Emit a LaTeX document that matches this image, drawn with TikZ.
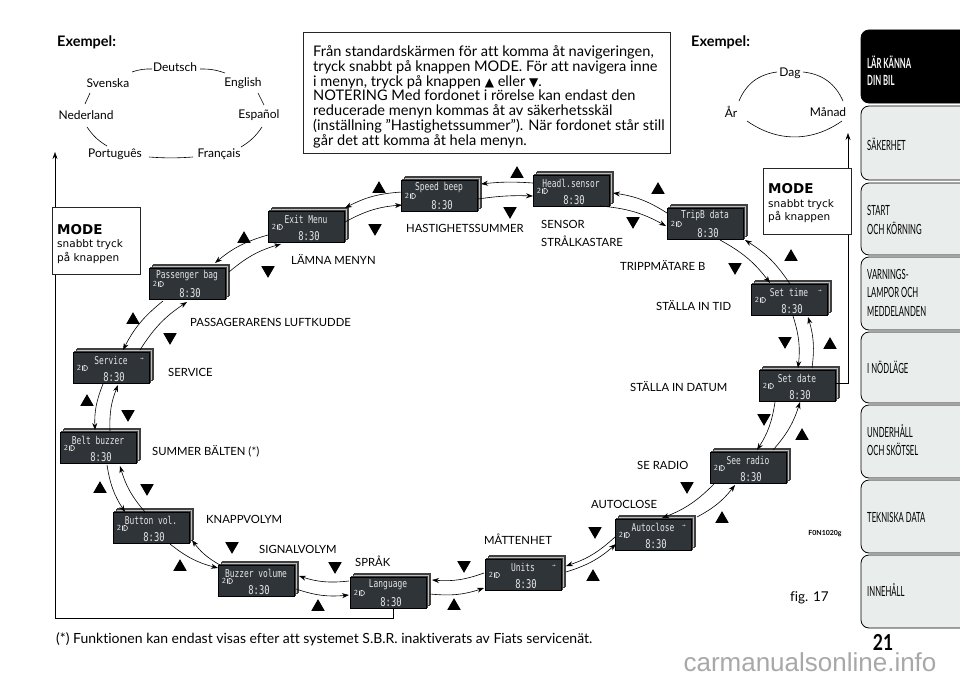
\documentclass[tikz,border=0pt]{standalone}
\usepackage{fontspec}
\usepackage{graphicx}
\setmainfont{Lato}[Ligatures=NoCommon]
\newfontfamily\symf{DejaVu Sans}
\newfontfamily\lcdf{DejaVu Sans Mono}
\newfontfamily\modef{DejaVu Sans}
\newfontfamily\wmf{Liberation Sans}
\usetikzlibrary{arrows.meta,shapes.geometric}
\definecolor{lcdbg}{HTML}{2F3438}
\definecolor{lcdfg}{HTML}{E6E6E6}
\definecolor{sheetc}{HTML}{BDBDBD}
\definecolor{tabfill}{HTML}{E9EDEC}
\definecolor{wmc}{HTML}{A8A8A8}
\tikzset{
  lcdbox/.style={draw=black, line width=0.5pt, fill=lcdbg, minimum width=76pt, minimum height=31pt, inner sep=0pt},
  sheet/.style={draw=black!75, fill=sheetc, line width=0.4pt},
  lcdtitle/.style={text=lcdfg, inner sep=0pt, font=\lcdf\fontsize{9}{9}\selectfont},
  lcdsmall/.style={text=lcdfg, inner sep=0pt, font=\lcdf\fontsize{7}{7}\selectfont},
  lcdtime/.style={text=lcdfg, inner sep=0pt, font=\lcdf\fontsize{11}{11}\selectfont},
  lcdicon/.style={draw=lcdfg, line width=0.6pt},
  conn/.style={draw=black, line width=0.6pt, -{Stealth[length=7pt,width=5pt]}},
  ib/.style={bend left=12},
  ob/.style={bend right=12},
  plain/.style={draw=black, line width=0.6pt},
  tri/.style={regular polygon, regular polygon sides=3, fill=black, minimum size=15.5pt, inner sep=0pt},
  triu/.style={tri, yshift=-1.9pt},
  trid/.style={tri, shape border rotate=180, yshift=1.9pt},
  lbl/.style={anchor=base west, inner sep=0pt, font=\fontsize{11.3}{13}\selectfont},
  boxline/.style={anchor=base west, inner sep=0pt, font=\fontsize{14.6}{15}\selectfont},
  lang/.style={inner sep=0pt, font=\fontsize{12}{14}\selectfont},
  exlbl/.style={anchor=base west, inner sep=0pt, font=\bfseries\fontsize{14.5}{15}\selectfont},
  modebox/.style={draw=black!85, fill=white, line width=0.8pt, minimum width=88pt, minimum height=67pt, inner sep=0pt},
  modebold/.style={anchor=base west, inner sep=0pt, font=\modef\bfseries\fontsize{13.5}{14}\selectfont},
  modetxt/.style={anchor=base west, inner sep=0pt, font=\modef\fontsize{10.5}{13}\selectfont},
  tabshape/.style={draw=black, line width=0.8pt, rounded corners=8pt},
  tabtxt/.style={anchor=west, inner sep=0pt, font=\fontsize{14}{16}\selectfont},
}
\newcommand\lcd[4]{%
  \foreach \k in {3,2,1}{\draw[sheet] ({#2-38+1.5*\k},{#3+15.5-1.5*\k}) rectangle ({#2+38+1.5*\k},{#3-15.5-1.5*\k});}
  \node[lcdbox] (#1) at (#2,#3) {};
  \node[lcdtitle] (#1t) at ([shift={(0,-8)}]#1.center) {\scalebox{0.88}[1.2]{#4}};
  \node[lcdsmall] (#1n) at ([shift={(-32,0)}]#1.center) {2};
  \draw[lcdicon] ([shift={(-28.5,-2.5)}]#1.center) -- ++(0,5)
     ([shift={(-27,-2.5)}]#1.center) -- ++(1,0) arc[start angle=-90,end angle=90,radius=2.5] -- ++(-1,0) -- cycle;
  \node[lcdtime] (#1c) at ([shift={(3,9)}]#1.center) {\scalebox{0.8}[1.1]{8:30}};
}
\newcommand\lcdarrow[1]{\node[lcdtitle, font=\lcdf\fontsize{6}{6}\selectfont] (#1a) at ([shift={(31,-8.5)}]#1.center) {→};}
\begin{document}
\begin{tikzpicture}[x=1pt,y=-1pt]
\useasboundingbox (0,0) rectangle (960,677);
\fill[white] (0,0) rectangle (960,677);

% ---------- side tabs ----------
\draw[tabshape, fill=black] (985,30) -- (861,30) -- (861,103) -- (985,103);
\draw[tabshape, fill=tabfill] (985,106) -- (861,106) -- (861,180) -- (985,180);
\draw[tabshape, fill=tabfill] (985,183) -- (861,183) -- (861,255) -- (985,255);
\draw[tabshape, fill=tabfill] (985,257) -- (861,257) -- (861,330) -- (985,330);
\draw[tabshape, fill=tabfill] (985,332) -- (861,332) -- (861,403) -- (985,403);
\draw[tabshape, fill=tabfill] (985,405) -- (861,405) -- (861,478) -- (985,478);
\draw[tabshape, fill=tabfill] (985,480) -- (861,480) -- (861,553) -- (985,553);
\draw[tabshape, fill=tabfill] (985,555) -- (861,555) -- (861,628) -- (985,628);
\node[tabtxt, text=white, font=\bfseries\fontsize{14}{16}\selectfont] (tab1a) at (867,62) {\scalebox{0.55}[1]{LÄR KÄNNA}};
\node[tabtxt, text=white, font=\bfseries\fontsize{14}{16}\selectfont] (tab1b) at (867,80) {\scalebox{0.55}[1]{DIN BIL}};
\node[tabtxt] (tab2a) at (867,144) {\scalebox{0.55}[1]{SÄKERHET}};
\node[tabtxt] (tab3a) at (867,210) {\scalebox{0.55}[1]{START}};
\node[tabtxt] (tab3b) at (867,228) {\scalebox{0.55}[1]{OCH KÖRNING}};
\node[tabtxt] (tab4a) at (867,274) {\scalebox{0.55}[1]{VARNINGS-}};
\node[tabtxt] (tab4b) at (867,292) {\scalebox{0.55}[1]{LAMPOR OCH}};
\node[tabtxt] (tab4c) at (867,311) {\scalebox{0.55}[1]{MEDDELANDEN}};
\node[tabtxt] (tab5a) at (867,367) {\scalebox{0.55}[1]{I NÖDLÄGE}};
\node[tabtxt] (tab6a) at (867,431) {\scalebox{0.55}[1]{UNDERHÅLL}};
\node[tabtxt] (tab6b) at (867,449) {\scalebox{0.55}[1]{OCH SKÖTSEL}};
\node[tabtxt] (tab7a) at (867,517) {\scalebox{0.55}[1]{TEKNISKA DATA}};
\node[tabtxt] (tab8a) at (867,590) {\scalebox{0.55}[1]{INNEHÅLL}};

% ---------- watermark and page number ----------
\node[inner sep=0pt, text=wmc, font=\wmf\fontsize{26}{27}\selectfont] (wm) at (810,662) {carmanualsonline.info};
\node[inner sep=0pt, font=\bfseries\fontsize{22}{22}\selectfont] (pgno) at (883,642) {\scalebox{0.8}[1]{21}};

% ---------- top-left example ----------
\node[exlbl] (ex1) at (57,46) {Exempel:};
\node[lang] (lde) at (175,67) {Deutsch};
\node[lang] (lsv) at (108,83) {Svenska};
\node[lang] (len) at (243,83) {English};
\node[lang] (lne) at (86,115) {Nederland};
\node[lang] (les) at (259,115) {Español};
\node[lang] (lpt) at (115,154) {Português};
\node[lang] (lfr) at (219,154) {Français};
\draw[plain] ([shift={(-23,2)}]lde.center) to[bend right=10] ([shift={(24,-11)}]lsv.center);
\draw[plain] ([shift={(25,2)}]lde.center) to[bend left=10] ([shift={(-18,-10)}]len.center);
\draw[plain] ([shift={(-18,10)}]lsv.center) -- ([shift={(-1,-11)}]lne.center);
\draw[plain] ([shift={(15,10)}]len.center) -- ([shift={(5,-10)}]les.center);
\draw[plain] ([shift={(1,12)}]lne.center) to[bend right=12] ([shift={(-8,-8)}]lpt.center);
\draw[plain] ([shift={(3,12)}]les.center) to[bend left=12] ([shift={(22,-7)}]lfr.center);
\draw[plain] ([shift={(34,3)}]lpt.center) to[bend right=4] ([shift={(-26,3)}]lfr.center);

% ---------- top-right example ----------
\node[exlbl] (ex2) at (691,46) {Exempel:};
\node[lang] (ldag) at (790,73) {Dag};
\node[lang] (lar) at (731,112) {År};
\node[lang] (lman) at (828,112) {Månad};
\draw[plain] ([shift={(-13,-1)}]ldag.center) to[bend right=30] ([shift={(8,-11)}]lar.center);
\draw[plain] ([shift={(13,-1)}]ldag.center) to[bend left=30] ([shift={(15,-11)}]lman.center);
\draw[plain] ([shift={(16,9)}]lar.center) to[bend right=35] ([shift={(14,9)}]lman.center);

% ---------- info box ----------
\node[draw=black!85, line width=0.9pt, minimum width=367pt, minimum height=121pt, inner sep=0pt] (txbox) at (486.5,92.5) {};
\node[boxline] (tx1) at (313,56.5) {Från standardskärmen för att komma åt navigeringen,};
\node[boxline] (tx2) at (313,71.3) {tryck snabbt på knappen MODE. För att navigera inne};
\node[boxline] (tx3) at (313,86.1) {i menyn, tryck på knappen {\symf\fontsize{12}{12}\selectfont ▲} eller {\symf\fontsize{12}{12}\selectfont ▼}.};
\node[boxline] (tx4) at (313,100.9) {NOTERING Med fordonet i rörelse kan endast den};
\node[boxline] (tx5) at (313,115.7) {reducerade menyn kommas åt av säkerhetsskäl};
\node[boxline] (tx6) at (313,130.5) {(inställning "Hastighetssummer"). När fordonet står still};
\node[boxline] (tx7) at (313,145.3) {går det att komma åt hela menyn.};

% ---------- displays ----------
\lcd{em}{306}{227}{Exit Menu}
\lcd{sb}{439}{196}{Speed beep}
\lcd{hs}{571}{191}{Headl.sensor}
\lcd{tb}{705}{224}{TripB data}
\lcd{st}{789}{300}{Set time}\lcdarrow{st}
\lcd{sd}{797}{386}{Set date}
\lcd{sr}{748}{468}{See radio}
\lcd{ac}{653}{535}{Autoclose}\lcdarrow{ac}
\lcd{un}{523}{575}{Units}\lcdarrow{un}
\lcd{la}{388}{593}{Language}
\lcd{bz}{256}{581}{Buzzer volume}
\lcd{bv}{151}{528}{Button vol.}
\lcd{bb}{98}{448}{Belt buzzer}
\lcd{sv}{111}{368}{Service}\lcdarrow{sv}
\lcd{pb}{187}{284}{Passenger bag}

% ---------- long connectors ----------
\coordinate (lcorner) at (55,618);
\coordinate (ptarrow) at (55,152);
\draw[conn] ([shift={(5,15.5)}]la.center) |- (lcorner) -- (ptarrow);
\coordinate (manarrow) at (848,133);
\draw[conn] ([shift={(39,-3)}]sd.center) -| (manarrow);

% ---------- MODE boxes ----------
\node[modebox] (mode1) at (96,241) {};
\node[modebold] (mode1a) at (57,234) {MODE};
\node[modetxt] (mode1b) at (57,247.5) {snabbt tryck};
\node[modetxt] (mode1c) at (57,261) {på knappen};
\node[modebox, minimum height=66pt] (mode2) at (807,201) {};
\node[modebold] (mode2a) at (768,193) {MODE};
\node[modetxt] (mode2b) at (768,207) {snabbt tryck};
\node[modetxt] (mode2c) at (768,220.5) {på knappen};

% ---------- arrows between displays ----------
\draw[conn] ([shift={(39,-5)}]em.center) to[ib] ([shift={(-37,9)}]sb.center);
\draw[conn] ([shift={(-37,-4)}]sb.center) to[ob] ([shift={(39,-19)}]em.center);
\draw[conn] ([shift={(39,3)}]sb.center) to[bend left=5] ([shift={(-38,5)}]hs.center);
\draw[conn] ([shift={(-38,-8)}]hs.center) to[bend right=5] ([shift={(42,-12)}]sb.center);
\draw[conn] ([shift={(29,15)}]hs.center) to[ib] ([shift={(-39,2)}]tb.center);
\draw[conn] ([shift={(-38,-11)}]tb.center) to[ob] ([shift={(42,2)}]hs.center);
\draw[conn] ([shift={(15,16)}]tb.center) to[ib] ([shift={(-19,-17)}]st.center);
\draw[conn] ([shift={(1,-16)}]st.center) to[ob] ([shift={(40,16)}]tb.center);
\draw[conn] ([shift={(4,16)}]st.center) to[ib] ([shift={(1,-18)}]sd.center);
\draw[conn] ([shift={(15,-18)}]sd.center) to[ob] ([shift={(19,17)}]st.center);
\draw[conn] ([shift={(-22,16)}]sd.center) to[ib] ([shift={(9,-18)}]sr.center);
\draw[conn] ([shift={(25,-18)}]sr.center) to[ob] ([shift={(3,16)}]sd.center);
\draw[conn] ([shift={(-34,16)}]sr.center) to[ib] ([shift={(9,-17)}]ac.center);
\draw[conn] ([shift={(44,-18)}]ac.center) to[ob] ([shift={(-13,17)}]sr.center);
\draw[conn] ([shift={(-38,2)}]ac.center) to[ib] ([shift={(43,-9)}]un.center);
\draw[conn] ([shift={(43,-3)}]un.center) to[ob] ([shift={(-37,9)}]ac.center);
\draw[conn] ([shift={(-39,-2)}]un.center) to[ib] ([shift={(44,-13)}]la.center);
\draw[conn] ([shift={(42,1)}]la.center) to[ob] ([shift={(-39,13)}]un.center);
\draw[conn] ([shift={(-39,-12)}]la.center) to[ib] ([shift={(43,-5)}]bz.center);
\draw[conn] ([shift={(40,8)}]bz.center) to[ob] ([shift={(-39,2)}]la.center);
\draw[conn] ([shift={(-36,-16)}]bz.center) to[ib] ([shift={(41,12)}]bv.center);
\draw[conn] ([shift={(19,16)}]bv.center) to[ob] ([shift={(-38,-13)}]bz.center);
\draw[conn] ([shift={(-6,-16)}]bv.center) to[ib] ([shift={(22,18)}]bb.center);
\draw[conn] ([shift={(9,17)}]bb.center) to[ob] ([shift={(-26,-16)}]bv.center);
\draw[conn] ([shift={(12,-17)}]bb.center) to[ib] ([shift={(7,17)}]sv.center);
\draw[conn] ([shift={(-8,16)}]sv.center) to[ob] ([shift={(-3,-18)}]bb.center);
\draw[conn] ([shift={(29,-18)}]sv.center) to[ib] ([shift={(0,18)}]pb.center);
\draw[conn] ([shift={(-24,17)}]pb.center) to[ob] ([shift={(12,-18)}]sv.center);
\draw[conn] ([shift={(42,-12)}]pb.center) to[ib] ([shift={(-25,17)}]em.center);
\draw[conn] ([shift={(-38,8)}]em.center) to[ob] ([shift={(28,-21)}]pb.center);

% ---------- triangles ----------
\node[triu] (u1) at (379,187) {};   \node[trid] (d1) at (375,230) {};
\node[triu] (u2) at (517,172) {};   \node[trid] (d2) at (510,213) {};
\node[triu] (u3) at (658,188) {};   \node[trid] (d3) at (633,223) {};
\node[triu] (u4) at (791,255) {};   \node[trid] (d4) at (735,269) {};
\node[triu] (u5) at (830,343) {};   \node[trid] (d5) at (785,343) {};
\node[triu] (u6) at (802,434) {};   \node[trid] (d6) at (764,420) {};
\node[triu] (u7) at (722,517) {};   \node[trid] (d7) at (687,488) {};
\node[triu] (u8) at (593,575) {};   \node[trid] (d8) at (595,533) {};
\node[triu] (u9) at (454,604) {};   \node[trid] (d9) at (464,567) {};
\node[triu] (u10) at (318,605) {};  \node[trid] (d10) at (335,568) {};
\node[triu] (u11) at (180,565) {};  \node[trid] (d11) at (232,548) {};
\node[triu] (u12) at (100,487) {};  \node[trid] (d12) at (147,490) {};
\node[triu] (u13) at (87,400) {};   \node[trid] (d13) at (128,416) {};
\node[triu] (u14) at (133,318) {};  \node[trid] (d14) at (170,339) {};
\node[triu] (u15) at (244,237) {};  \node[trid] (d15) at (268,272) {};

% ---------- labels ----------
\node[lbl] (l1) at (291,264) {LÄMNA MENYN};
\node[lbl] (l2) at (406,232) {HASTIGHETSSUMMER};
\node[lbl] (l3a) at (541,228) {SENSOR};
\node[lbl] (l3b) at (541,246) {STRÅLKASTARE};
\node[lbl] (l4) at (620,270) {TRIPPMÄTARE B};
\node[lbl] (l5) at (656,310) {STÄLLA IN TID};
\node[lbl] (l6) at (630,391) {STÄLLA IN DATUM};
\node[lbl] (l7) at (637,469) {SE RADIO};
\node[lbl] (l8) at (591,508) {AUTOCLOSE};
\node[lbl] (l9) at (484,544) {MÅTTENHET};
\node[lbl] (l10) at (355,566) {SPRÅK};
\node[lbl] (l11) at (259,553) {SIGNALVOLYM};
\node[lbl] (l12) at (206,523) {KNAPPVOLYM};
\node[lbl] (l13) at (152,455) {SUMMER BÄLTEN (*)};
\node[lbl] (l14) at (168,376) {SERVICE};
\node[lbl] (l15) at (190,326) {PASSAGERARENS LUFTKUDDE};

% ---------- misc texts ----------
\node[inner sep=0pt, font=\bfseries\fontsize{7}{8}\selectfont] (fcode) at (825,534) {F0N1020g};
\node[anchor=base west, inner sep=0pt, font=\fontsize{13.5}{14}\selectfont] (fig) at (790,601) {fig. 17};
\node[anchor=base west, inner sep=0pt, font=\fontsize{14}{15}\selectfont] (foot) at (56,643) {(*) Funktionen kan endast visas efter att systemet S.B.R. inaktiverats av Fiats servicenät.};
\end{tikzpicture}
\end{document}
